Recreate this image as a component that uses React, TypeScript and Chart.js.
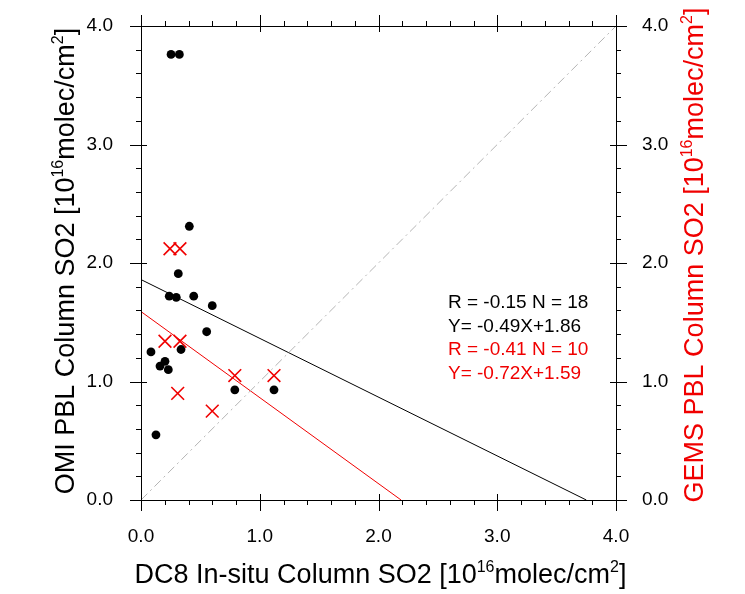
import React, { useEffect, useRef } from "react";
import { Chart, registerables } from "chart.js";

Chart.register(...registerables);

// ---- data ----
const omiX = [0.253, 0.323, 0.407, 0.314, 0.238, 0.297, 0.444, 0.6, 0.553, 0.084, 0.337, 0.202, 0.16, 0.23, 0.79, 1.12, 0.126];
const omiY = [3.76, 3.76, 2.31, 1.91, 1.72, 1.71, 1.72, 1.64, 1.42, 1.25, 1.27, 1.17, 1.13, 1.1, 0.93, 0.93, 0.55];
const gemsX = [0.244, 0.328, 0.202, 0.328, 0.309, 0.79, 1.12, 0.6];
const gemsY = [2.12, 2.12, 1.34, 1.34, 0.9, 1.05, 1.05, 0.75];
// regression lines: [x, y] end points
const omiFitX = [0, 3.75];
const omiFitY = [1.86, 0];
const gemsFitX = [0, 2.19];
const gemsFitY = [1.59, 0];
const oneToOne = [0, 4];
const axisRange = [0, 4];
const majorStep = 1;
const minorStep = 0.2;
const statsBlack = ["R = -0.15 N = 18", "Y= -0.49X+1.86"];
const statsRed = ["R = -0.41 N = 10", "Y= -0.72X+1.59"];
const xTitle: [string, boolean][] = [["DC8 In-situ Column SO2 [10", false], ["16", true], ["molec/cm", false], ["2", true], ["]", false]];
const yTitle: [string, boolean][] = [["OMI PBL Column SO2 [10", false], ["16", true], ["molec/cm", false], ["2", true], ["]", false]];
const y2Title: [string, boolean][] = [["GEMS PBL Column SO2 [10", false], ["16", true], ["molec/cm", false], ["2", true], ["]", false]];

const FF = '"Liberation Sans", Arial, Helvetica, sans-serif';
const RED = "rgb(240,0,0)";

function drawRich(ctx: CanvasRenderingContext2D, parts: [string, boolean][], cx: number, baseline: number, size: number, color: string) {
  const main = `${size}px ${FF}`;
  const sup = `${Math.round(size * 0.6)}px ${FF}`;
  let total = 0;
  const widths = parts.map(([t, s]) => {
    ctx.font = s ? sup : main;
    const w = ctx.measureText(t).width;
    total += w;
    return w;
  });
  let x = cx - total / 2;
  ctx.fillStyle = color;
  ctx.textAlign = "left";
  ctx.textBaseline = "alphabetic";
  parts.forEach(([t, s], i) => {
    ctx.font = s ? sup : main;
    ctx.fillText(t, x, baseline - (s ? size * 0.42 : 0));
    x += widths[i];
  });
}

const framePlugin = {
  id: "nclFrame",
  afterDraw(chart: any) {
    const ctx: CanvasRenderingContext2D = chart.ctx;
    const a = chart.chartArea;
    const sx = chart.scales.x;
    const sy = chart.scales.y;
    ctx.save();
    ctx.strokeStyle = "#000";
    ctx.lineWidth = 1;
    ctx.strokeRect(Math.round(a.left) + 0.5, Math.round(a.top) + 0.5, Math.round(a.right - a.left), Math.round(a.bottom - a.top));
    const n = Math.round((axisRange[1] - axisRange[0]) / minorStep);
    ctx.beginPath();
    for (let i = 0; i <= n; i++) {
      const v = axisRange[0] + i * minorStep;
      const major = Math.abs(v / majorStep - Math.round(v / majorStep)) < 1e-6;
      const out = major ? 11 : 5;
      const inn = major ? 6 : 0;
      const px = Math.round(sx.getPixelForValue(v)) + 0.5;
      const py = Math.round(sy.getPixelForValue(v)) + 0.5;
      ctx.moveTo(px, a.bottom - inn);
      ctx.lineTo(px, a.bottom + out);
      ctx.moveTo(px, a.top + inn);
      ctx.lineTo(px, a.top - out);
      ctx.moveTo(a.left + inn, py);
      ctx.lineTo(a.left - out, py);
      ctx.moveTo(a.right - inn, py);
      ctx.lineTo(a.right + out, py);
    }
    ctx.stroke();

    // stats text
    const tx = sx.getPixelForValue(2.585);
    const ty0 = 308;
    const step = 23.7;
    ctx.font = `19px ${FF}`;
    ctx.textAlign = "left";
    ctx.textBaseline = "alphabetic";
    ctx.fillStyle = "#000";
    statsBlack.forEach((t, i) => ctx.fillText(t, tx, ty0 + i * step));
    ctx.fillStyle = RED;
    statsRed.forEach((t, i) => ctx.fillText(t, tx, ty0 + (i + 2) * step));

    // titles
    const fs = 27;
    drawRich(ctx, xTitle, 380.5, 583, fs, "#000");
    ctx.save();
    ctx.translate(74, 261);
    ctx.rotate(-Math.PI / 2);
    drawRich(ctx, yTitle, 0, 0, fs, "#000");
    ctx.restore();
    ctx.save();
    ctx.translate(703, 255);
    ctx.rotate(-Math.PI / 2);
    drawRich(ctx, y2Title, 0, 0, fs, RED);
    ctx.restore();
    ctx.restore();
  },
};

const zeroPad = (s: any) => {
  s.paddingTop = 0;
  s.paddingBottom = 0;
  s.paddingLeft = 0;
  s.paddingRight = 0;
};

export default function App() {
  const ref = useRef<HTMLCanvasElement | null>(null);
  useEffect(() => {
    if (!ref.current) return;
    const tickFont = { family: FF, size: 19 };
    const fmt = (v: any) => Number(v).toFixed(1);
    const hiddenGrid = { display: false, drawTicks: false };
    const chart = new Chart(ref.current, {
      type: "scatter",
      data: {
        datasets: [
          {
            type: "line",
            data: oneToOne.map((v) => ({ x: v, y: v })),
            borderColor: "#b4b4b4",
            borderWidth: 1,
            borderDash: [9, 4, 2, 4],
            pointRadius: 0,
            fill: false,
          },
          {
            type: "line",
            data: omiFitX.map((x, i) => ({ x, y: omiFitY[i] })),
            borderColor: "#000",
            borderWidth: 1,
            pointRadius: 0,
            fill: false,
          },
          {
            type: "line",
            data: gemsFitX.map((x, i) => ({ x, y: gemsFitY[i] })),
            borderColor: RED,
            borderWidth: 1,
            pointRadius: 0,
            fill: false,
          },
          {
            data: omiX.map((x, i) => ({ x, y: omiY[i] })),
            pointStyle: "circle",
            pointRadius: 4.4,
            backgroundColor: "#000",
            borderColor: "#000",
            borderWidth: 0,
          },
          {
            data: gemsX.map((x, i) => ({ x, y: gemsY[i] })),
            pointStyle: "crossRot",
            pointRadius: 9,
            borderColor: RED,
            borderWidth: 1.6,
          },
        ] as any,
      },
      options: {
        animation: false,
        responsive: false,
        layout: { padding: 0 },
        plugins: { legend: { display: false }, tooltip: { enabled: false } },
        scales: {
          x: {
            type: "linear",
            position: "bottom",
            min: axisRange[0],
            max: axisRange[1],
            grid: hiddenGrid,
            border: { display: false },
            ticks: { stepSize: majorStep, callback: fmt, font: tickFont, color: "#000", padding: 25, maxRotation: 0 },
            afterFit: (s: any) => { s.height = 94; zeroPad(s); },
          },
          x2: {
            type: "linear",
            position: "top",
            min: axisRange[0],
            max: axisRange[1],
            grid: hiddenGrid,
            border: { display: false },
            ticks: { display: false },
            afterFit: (s: any) => { s.height = 26; zeroPad(s); },
          },
          y: {
            type: "linear",
            position: "left",
            min: axisRange[0],
            max: axisRange[1],
            grid: hiddenGrid,
            border: { display: false },
            ticks: { stepSize: majorStep, callback: fmt, font: tickFont, color: "#000", padding: 28 },
            afterFit: (s: any) => { s.width = 141; zeroPad(s); },
          },
          y2: {
            type: "linear",
            position: "right",
            min: axisRange[0],
            max: axisRange[1],
            grid: hiddenGrid,
            border: { display: false },
            ticks: { stepSize: majorStep, callback: fmt, font: tickFont, color: "#000", padding: 26 },
            afterFit: (s: any) => { s.width = 129; zeroPad(s); },
          },
        },
      } as any,
      plugins: [framePlugin],
    });
    return () => chart.destroy();
  }, []);
  return (
    <div style={{ position: "fixed", left: 0, top: 0, width: 745, height: 594, background: "#fff" }}>
      <canvas ref={ref} width={745} height={594} style={{ display: "block" }} />
    </div>
  );
}
